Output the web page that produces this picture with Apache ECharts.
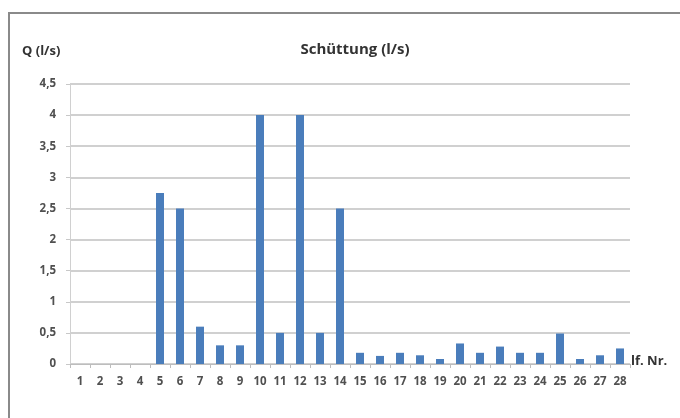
<!DOCTYPE html>
<html><head><meta charset="utf-8">
<script src="https://cdn.jsdelivr.net/npm/echarts@6/dist/echarts.min.js"></script>
<style>html,body{margin:0;padding:0;background:#fff}#c{width:680px;height:418px}</style>
</head><body><div id="c"></div>
<script>
const categories = ['1','2','3','4','5','6','7','8','9','10','11','12','13','14','15','16','17','18','19','20','21','22','23','24','25','26','27','28'];
const values = [0,0,0,0,2.75,2.5,0.6,0.3,0.3,4,0.5,4,0.5,2.5,0.18,0.13,0.18,0.14,0.08,0.33,0.18,0.28,0.18,0.18,0.49,0.08,0.14,0.25];
const yTicks = ['0','0,5','1','1,5','2','2,5','3','3,5','4','4,5'];
const titleText = 'Schüttung (l/s)';
const yName = 'Q (l/s)';
const xName = 'lf. Nr.';

const chart = echarts.init(document.getElementById('c'), null, {renderer:'canvas'});
const font = 'Open Sans';
chart.setOption({
  animation:false,
  backgroundColor:'#fff',
  title:{text:titleText,left:350,top:37,textAlign:'center',textStyle:{fontFamily:font,fontSize:15,fontWeight:'bold',color:'#333'}},
  graphic:[
    {type:'line',shape:{x1:9,y1:13,x2:9,y2:418},style:{stroke:'#8a8a8a',lineWidth:2}},
    {type:'line',shape:{x1:8,y1:13,x2:680,y2:13},style:{stroke:'#8a8a8a',lineWidth:2}},
    {type:'text',left:22,top:45,style:{text:yName,font:'bold 13px "Open Sans"',fill:'#333'}},
    {type:'text',left:631,top:355,style:{text:xName,font:'bold 13px "Open Sans"',fill:'#333'}}
  ],
  grid:{left:70,right:50,top:84,bottom:54,containLabel:false},
  xAxis:{type:'category',data:categories,boundaryGap:true,
    axisLine:{lineStyle:{color:'#bdbdbd',width:1}},
    axisTick:{show:true,alignWithLabel:false,length:4,lineStyle:{color:'#bdbdbd'}},
    axisLabel:{interval:0,margin:12,fontFamily:font,fontSize:11.5,fontWeight:'bold',color:'#505050'}},
  yAxis:{type:'value',min:0,max:4.5,interval:0.5,
    axisLine:{show:true,lineStyle:{color:'#d0d0d0'}},
    axisTick:{show:true,length:4,lineStyle:{color:'#c8c8c8'}},
    splitLine:{lineStyle:{color:'#c0c0c0',width:1.5}},
    axisLabel:{margin:14,fontFamily:font,fontSize:11.5,fontWeight:'bold',color:'#505050',
      formatter:(v)=>yTicks[Math.round(v/0.5)]}},
  series:[{type:'bar',data:values,barWidth:8,itemStyle:{color:'#4a7dbb'}}]
});
</script></body></html>
